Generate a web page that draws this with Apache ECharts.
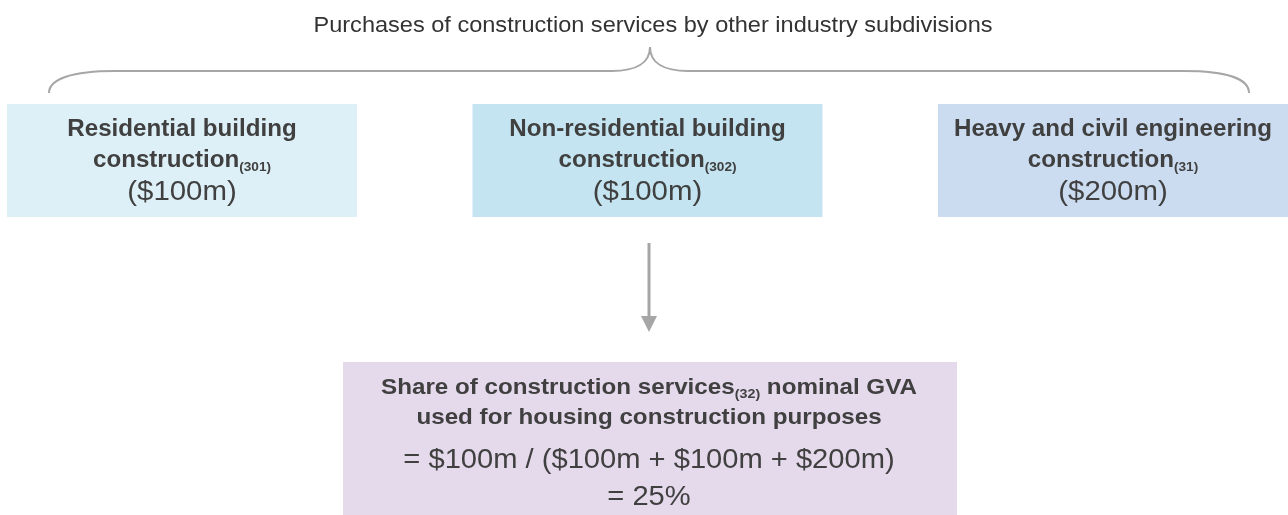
<!DOCTYPE html>
<html>
<head>
<meta charset="utf-8">
<script src="https://cdn.jsdelivr.net/npm/echarts@6/dist/echarts.min.js"></script>
<style>
  html, body { margin: 0; padding: 0; background: #fff; }
  #chart { width: 1288px; height: 515px; }
</style>
</head>
<body>
<div id="chart"></div>
<script>
// data
const titleText = 'Purchases of construction services by other industry subdivisions'
const subdivisions = ['Residential building construction', 'Non-residential building construction', 'Heavy and civil engineering construction']
const subdivisionCodes = ['301', '302', '31']
const purchases = [100, 100, 200] // $m
const housingIdx = 0
const resultLabel = ['Share of construction services', 'nominal GVA', 'used for housing construction purposes']
const resultCode = '32'

const FONT = '"Liberation Sans", Arial, sans-serif'
const TEXT = '#404040'
const LINE = '#a6a6a6'
const boxColors = ['#def0f7', '#c3e4f0', '#cbdcf1']

const share = Math.round(purchases[housingIdx] / purchases.reduce((a, b) => a + b, 0) * 100)
const money = (v) => '$' + v + 'm'

const chart = echarts.init(document.getElementById('chart'))

function renderBox(params, api) {
  const i = api.value(0)
  const pt = api.coord([i, 0])
  const cs = params.coordSys
  const name = subdivisions[i].replace(/ construction$/, '\nconstruction')
  return {
    type: 'group',
    children: [
      {
        type: 'rect',
        shape: { x: pt[0] - 175, y: cs.y, width: 350, height: cs.height },
        style: { fill: boxColors[i] }
      },
      {
        type: 'text',
        x: pt[0],
        y: cs.y + cs.height / 2 + 1,
        scaleX: 1.05,
        style: {
          text: name + '{s|(' + subdivisionCodes[i] + ')}\n{v|(' + money(api.value(1)) + ')}',
          align: 'center',
          verticalAlign: 'middle',
          fill: TEXT,
          fontFamily: FONT,
          fontSize: 23,
          fontWeight: 'bold',
          lineHeight: 31,
          rich: {
            s: { fontFamily: FONT, fontSize: 13, fontWeight: 'bold', fill: TEXT, verticalAlign: 'bottom', padding: [0, 0, 2, 0] },
            v: { fontFamily: FONT, fontSize: 28, fontWeight: 'normal', fill: TEXT, lineHeight: 33 }
          }
        }
      }
    ]
  }
}

// brace above the boxes
const brace = [
  { type: 'bezierCurve', shape: { x1: 49, y1: 93, cpx1: 49, cpy1: 79, cpx2: 72, cpy2: 71, x2: 115, y2: 71 } },
  { type: 'line', shape: { x1: 115, y1: 71, x2: 612, y2: 71 } },
  { type: 'bezierCurve', shape: { x1: 612, y1: 71, cpx1: 636, cpy1: 71, cpx2: 650, cpy2: 63, x2: 650, y2: 47 } },
  { type: 'bezierCurve', shape: { x1: 650, y1: 47, cpx1: 650, cpy1: 63, cpx2: 664, cpy2: 71, x2: 688, y2: 71 } },
  { type: 'line', shape: { x1: 688, y1: 71, x2: 1184, y2: 71 } },
  { type: 'bezierCurve', shape: { x1: 1184, y1: 71, cpx1: 1227, cpy1: 71, cpx2: 1249, cpy2: 79, x2: 1249, y2: 93 } }
].map((el) => Object.assign(el, { style: { stroke: LINE, lineWidth: 2, fill: null } }))

const formula = '= ' + money(purchases[housingIdx]) + ' / (' + purchases.map(money).join(' + ') + ')\n= ' + share + '%'

chart.setOption({
  animation: false,
  grid: { left: 182, right: 175, top: 104, bottom: 298 },
  xAxis: { type: 'category', data: subdivisions, boundaryGap: false, show: false },
  yAxis: { type: 'value', show: false },
  series: [
    {
      type: 'custom',
      data: purchases.map((v, i) => [i, v]),
      encode: { x: 0, y: 1 },
      renderItem: renderBox
    }
  ],
  graphic: [
    {
      type: 'text',
      x: 653,
      y: 26,
      scaleX: 1.07,
      style: { text: titleText, align: 'center', verticalAlign: 'middle', fill: '#333', fontFamily: FONT, fontSize: 22 }
    },
    ...brace,
    { type: 'line', shape: { x1: 649, y1: 243, x2: 649, y2: 318 }, style: { stroke: LINE, lineWidth: 3 } },
    { type: 'polygon', shape: { points: [[641, 316], [657, 316], [649, 332]] }, style: { fill: LINE } },
    { type: 'rect', shape: { x: 343, y: 362, width: 614, height: 153 }, style: { fill: '#e5daec' } },
    {
      type: 'text',
      x: 649,
      y: 403,
      scaleX: 1.1,
      style: {
        text: resultLabel[0] + '{s|(' + resultCode + ')} ' + resultLabel[1] + '\n' + resultLabel[2],
        align: 'center',
        verticalAlign: 'middle',
        fill: TEXT,
        fontFamily: FONT,
        fontSize: 22,
        fontWeight: 'bold',
        lineHeight: 30,
        rich: {
          s: { fontFamily: FONT, fontSize: 13, fontWeight: 'bold', fill: TEXT, verticalAlign: 'bottom', padding: [0, 0, 2, 0] }
        }
      }
    },
    {
      type: 'text',
      x: 649,
      y: 479,
      scaleX: 1.04,
      style: { text: formula, align: 'center', verticalAlign: 'middle', fill: TEXT, fontFamily: FONT, fontSize: 28, lineHeight: 37 }
    }
  ]
})
</script>
</body>
</html>
